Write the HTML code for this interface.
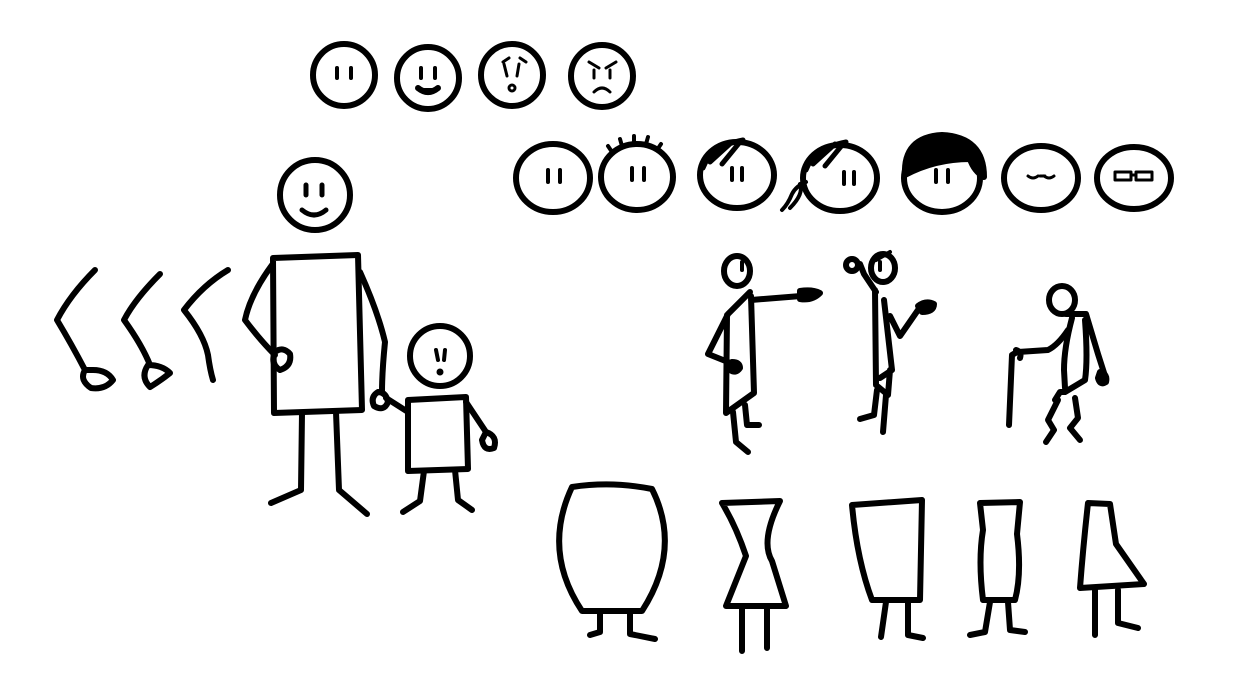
<!DOCTYPE html>
<html><head><meta charset="utf-8"><style>
html,body{margin:0;padding:0;background:#fff;}
svg{display:block}
</style></head><body>
<svg width="1253" height="693" viewBox="0 0 1253 693" fill="none" stroke="#000" stroke-width="6" stroke-linecap="round" stroke-linejoin="round">
<g>
 <g><circle cx="344" cy="75" r="31"/><path d="M337 68v10M351 68v10" stroke-width="4"/></g>
 <g><circle cx="428" cy="78" r="31"/><path d="M421 68v10M435 68v10" stroke-width="4"/><path d="M418 88q10 8 20 0" fill="#000"/></g>
 <g><circle cx="512" cy="75" r="31"/><path d="M504 64l3 12M519 64l-2 12M503 62l6-4M520 58l6 4" stroke-width="3"/><circle cx="512" cy="88" r="3" stroke-width="3"/></g>
 <g><circle cx="602" cy="76" r="31"/><path d="M594 70v8M610 70v8M589 62l10 6M616 62l-10 6M594 92q8-8 16 0" stroke-width="3"/></g>
</g>
<g>
 <g><ellipse cx="553" cy="178" rx="37" ry="34"/><path d="M548 170v12M560 170v12" stroke-width="4"/></g>
 <g><ellipse cx="637" cy="177" rx="36" ry="33"/><path d="M612 152l-4-6M622 146l-2-7M634 143v-7M646 144l2-7M657 150l4-6M632 168v12M644 168v12" stroke-width="4"/></g>
 <g><ellipse cx="737" cy="175" rx="37" ry="33"/><path d="M703 168q8-22 40-28M710 162l22-20M722 164l18-22" stroke-width="5"/><path d="M732 168v12M742 168v12" stroke-width="4"/></g>
 <g><ellipse cx="840" cy="178" rx="37" ry="33"/><path d="M806 170q8-22 40-28M813 164l22-20M825 166l18-22" stroke-width="5"/><path d="M806 182q-10 4 -14 12q-4 10 -10 16M800 184q4 10-10 24" stroke-width="4"/><path d="M844 172v12M854 172v12" stroke-width="4"/></g>
 <g><ellipse cx="942" cy="178" rx="38" ry="34"/><path d="M905 175q-2-38 37-40q42 2 42 42q-10 -6 -14 -18q-35 0 -65 16z" fill="#000"/><path d="M936 170v12M948 170v12" stroke-width="4"/></g>
 <g><ellipse cx="1041" cy="178" rx="37" ry="32"/><path d="M1028 176q5 4 10 0M1044 176q5 4 10 0M1040 176h5" stroke-width="3"/></g>
 <g><ellipse cx="1134" cy="178" rx="37" ry="31"/><path d="M1115 172h16v8h-16zM1136 172h16v8h-16zM1131 175h5" stroke-width="3"/></g>
</g>
<g>
 <path d="M95 270q-25 25-38 50q15 25 28 50M85 370q-6 10 6 18q14 2 22-8q-6-10-20-10z"/>
 <path d="M160 274q-25 25-36 46q18 25 26 45M148 365q-8 12 2 22q10-6 20-14q-8-8-22-8z"/>
 <path d="M228 270q-25 15-44 40q20 25 24 45q2 15 5 25"/>
</g>
<g>
 <circle cx="315" cy="195" r="35"/>
 <path d="M306 185v10M322 185v10M302 210q12 10 24 0" stroke-width="5"/>
 <path d="M273 258l85-3l4 155l-88 3z"/>
 <path d="M272 265q-22 30-27 55q15 20 30 35M275 352q8-6 15 2q2 12-10 16q-10-6-5-18z"/>
 <path d="M360 272q18 40 25 70q-3 30-3 50"/>
 <path d="M302 413l-1 77l-30 13M336 412l3 78l28 24"/>
</g>
<g>
 <circle cx="440" cy="356" r="30"/>
 <path d="M436 350l2 10M445 350l-1 10" stroke-width="4"/><circle cx="440" cy="372" r="2.5" fill="#000" stroke-width="2"/>
 <path d="M408 400l58-3l2 72l-60 2z"/>
 <path d="M466 402l20 30M486 432q12 4 8 16q-10 4-12-8zM408 412l-22-14M378 392q-8 5-4 14q10 6 14-4q-2-10-10-10z"/>
 <path d="M424 471l-4 30l-17 11M455 470l3 30l14 10"/>
</g>
<g>
 <g>
  <ellipse cx="737" cy="271" rx="13" ry="15"/>
  <path d="M742 262v8" stroke-width="4"/>
  <path d="M750 292l-22 22l-20 40l25 10M727 315l-1 98l28-20l-3-97M751 300l50-4"/>
  <path d="M732 362q8 0 8 6q-4 6 -10 2zM800 291q12-2 20 2q-8 8-20 6z" fill="#000"/>
  <path d="M733 412l3 30l12 10M745 405l2 20l12 0"/>
 </g>
 <g>
  <ellipse cx="883" cy="268" rx="12" ry="14"/>
  <path d="M876 260l14-8M880 262v8" stroke-width="4"/>
  <path d="M876 292l-12-18l-4-10M875 290l1 95l12 10l2-25M884 300l8 70l-12 8M890 316l10 20l18-26"/>
  <circle cx="852" cy="265" r="6"/>
  <path d="M918 306q8-6 16-2q0 8-12 8z" fill="#000"/>
  <path d="M877 390l-3 25l-14 4M886 395l-3 37"/>
 </g>
 <g>
  <ellipse cx="1062" cy="300" rx="13" ry="14"/>
  <path d="M1066 314h20l12 40l8 25M1072 318q-8 30-8 52l1 18M1085 320q3 40 0 60l-20 12h-5l-5 8"/>
  <path d="M1068 330q-10 15-20 20l-30 2M1017 352l-5 3l-3 70"/>
  <path d="M1100 372q8 2 6 10q-6 4-8-4z M1016 350q6 2 4 8" fill="#000"/>
  <path d="M1058 400l-10 20l6 10l-8 12M1075 398l3 20l-8 10l10 12"/>
 </g>
</g>
<g>
 <g><path d="M572 487q40-6 80 2q30 60-10 122h-60q-40-60-10-124z"/><path d="M600 612v20l-10 3M630 612v22l25 5"/></g>
 <g><path d="M722 503l58-2q-20 40-8 60l14 45h-60q12-30 20-50q-10-30-24-53z"/><path d="M742 608v43M767 608v40"/></g>
 <g><path d="M852 505l70-5l-2 100h-48q-15-40-20-95z"/><path d="M886 602l-5 35M908 600v35l15 3"/></g>
 <g><path d="M980 503l40-1l-3 32q5 40-2 66h-32q-5-40 0-70z"/><path d="M990 602l-5 30l-15 3M1008 602l2 28l15 2"/></g>
 <g><path d="M1088 503l22 1l6 40l28 40l-64 4q3-40 8-85z"/><path d="M1095 590v45M1118 590v33l20 5"/></g>
</g>
</svg>
</body></html>
